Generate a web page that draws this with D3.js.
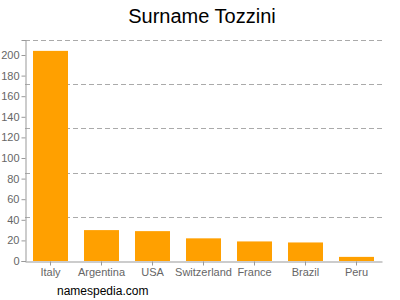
<!DOCTYPE html>
<html><head><meta charset="utf-8">
<script src="https://cdn.jsdelivr.net/npm/d3@7"></script>
<style>body{margin:0;background:#fff}svg{display:block}</style>
</head><body><svg id="c" width="400" height="300"></svg>
<script>
const categories = ["Italy","Argentina","USA","Switzerland","France","Brazil","Peru"];
const values = [204, 30, 29, 22, 19, 18, 4];
const yTicks = [0,20,40,60,80,100,120,140,160,180,200];
const title = "Surname Tozzini";
const source = "namespedia.com";

const svg = d3.select("#c");
const mLeft = 25, mRight = 382, mTop = 40, mBottom = 261;
const yMax = (mBottom - mTop) / 1.03;
const y = d3.scaleLinear().domain([0, yMax]).range([mBottom, mTop]);
const x = d3.scaleBand().domain(categories).range([mLeft, mRight]).paddingInner(0.314).paddingOuter(0.157);

// gridlines: 5 equal divisions
const grid = d3.range(1, 6).map(i => yMax * i / 5);
svg.append("g").selectAll("line").data(grid).join("line")
  .attr("x1", mLeft).attr("x2", 384)
  .attr("y1", d => Math.round(y(d)) + 0.5).attr("y2", d => Math.round(y(d)) + 0.5)
  .attr("stroke", "#aaa").attr("stroke-dasharray", "5,3");

svg.append("g").selectAll("rect").data(values).join("rect")
  .attr("x", (d, i) => x(categories[i]))
  .attr("width", x.bandwidth())
  .attr("y", d => y(d))
  .attr("height", d => mBottom - y(d))
  .attr("fill", "#ffa000");

const yAxis = svg.append("g").attr("transform", `translate(${mLeft + 0.5},0)`)
  .call(d3.axisLeft(y).tickValues(yTicks).tickSize(4).tickPadding(2));
yAxis.select(".domain").attr("stroke", "#999");
yAxis.selectAll(".tick line").attr("stroke", "#999");
yAxis.selectAll("text").attr("fill", "#666").style("font", "11px Arial, 'Liberation Sans', sans-serif");

const xAxis = svg.append("g").attr("transform", `translate(0,${mBottom + 0.5})`)
  .call(d3.axisBottom(x).tickSize(4).tickSizeOuter(0).tickPadding(3));
xAxis.select(".domain").attr("stroke", "#999");
xAxis.selectAll(".tick line").attr("stroke", "#999");
xAxis.selectAll("text").attr("fill", "#666").style("font", "11px Arial, 'Liberation Sans', sans-serif");

svg.append("text").attr("x", 202).attr("y", 23).attr("text-anchor", "middle")
  .style("font", "20px Arial, 'Liberation Sans', sans-serif").attr("fill", "#000").text(title);
svg.append("text").attr("x", 57).attr("y", 295)
  .style("font", "12px Arial, 'Liberation Sans', sans-serif").attr("fill", "#000").text(source);
</script></body></html>
